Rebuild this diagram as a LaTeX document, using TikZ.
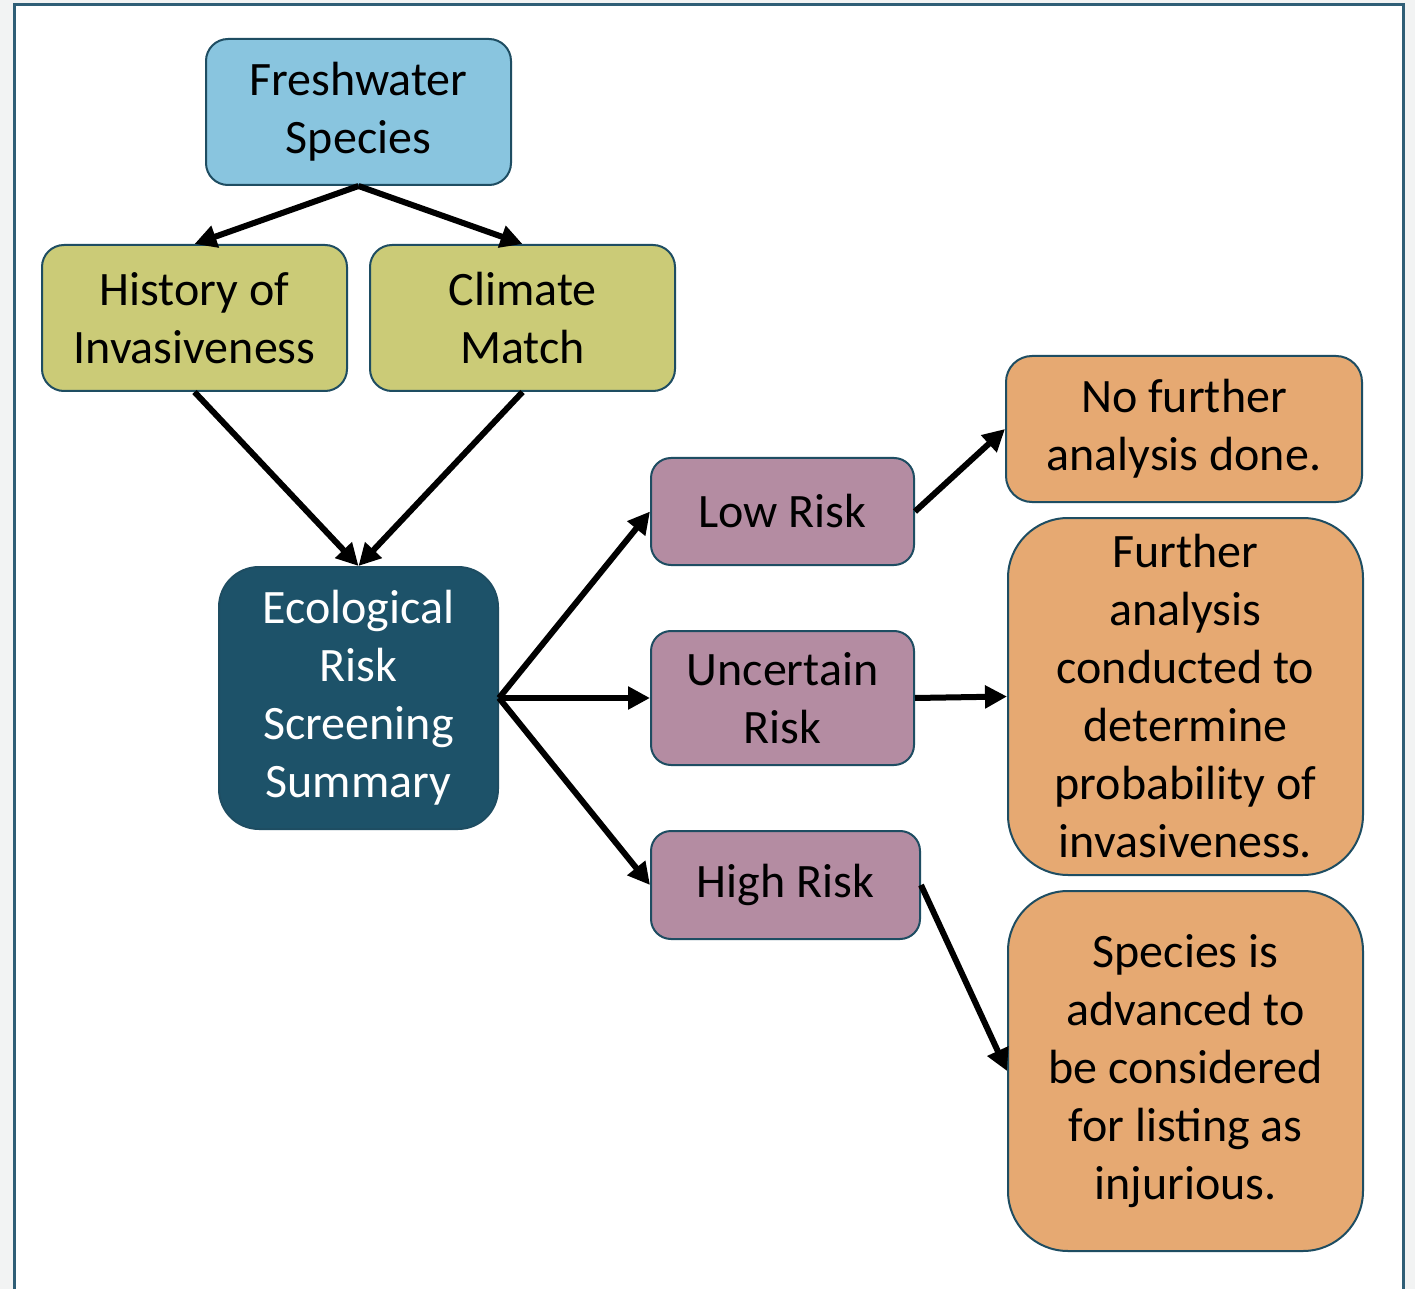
\documentclass[tikz,border=0pt]{standalone}
\usepackage{fontspec}
\setmainfont{Carlito}
\usetikzlibrary{arrows.meta}
\definecolor{bordc}{HTML}{1E4D62}
\definecolor{framec}{HTML}{2F5E76}
\definecolor{bgc}{HTML}{F2F3F3}
\definecolor{bluec}{HTML}{89C5DF}
\definecolor{olivec}{HTML}{CBCB77}
\definecolor{tealc}{HTML}{1D5269}
\definecolor{purplec}{HTML}{B48CA2}
\definecolor{orangec}{HTML}{E6A972}
\tikzset{
  boxbase/.style={draw=bordc, line width=1pt, inner sep=0pt, align=center,
    font=\fontsize{24pt}{29pt}\selectfont, text=black,
    execute at begin node={\vspace*{4pt}}},
  bluebox/.style={boxbase, fill=bluec, rounded corners=11pt, minimum width=152.5pt, minimum height=73pt},
  olivebox/.style={boxbase, fill=olivec, rounded corners=11pt, minimum width=152.5pt, minimum height=73pt},
  tealbox/.style={boxbase, fill=tealc, text=white, rounded corners=20pt, minimum width=139.5pt, minimum height=131pt},
  purplebox/.style={boxbase, fill=purplec, rounded corners=10pt},
  orangebox/.style={boxbase, fill=orangec},
  conn/.style={line width=3pt, -{Triangle[length=11pt,width=11pt]}}
}
\begin{document}
\begin{tikzpicture}[x=0.5pt,y=-0.5pt]
\useasboundingbox (0,0) rectangle (1415,1289);
\fill[bgc] (0,0) rectangle (1415,1289);
\fill[white] (14,5) rectangle (1403,1289);
\draw[framec, line width=1.5pt] (14,1289) -- (14,5) -- (1403,5) -- (1403,1289);

\node[bluebox] (fw) at (358.5,112) {Freshwater\\Species};
\node[olivebox] (hist) at (194.5,318) {History of\\Invasiveness};
\node[olivebox] (clim) at (522.5,318) {Climate\\Match};
\node[tealbox] (ers) at (358.5,698) {Ecological\\Risk\\Screening\\Summary};
\node[purplebox, minimum width=131.5pt, minimum height=53.5pt] (low) at (782.5,511.5) {Low Risk};
\node[purplebox, minimum width=131.5pt, minimum height=67pt] (unc) at (782.5,698) {Uncertain\\Risk};
\node[purplebox, minimum width=134.5pt, minimum height=54pt] (high) at (785.5,885) {High Risk};
\node[orangebox, rounded corners=13pt, minimum width=178pt, minimum height=73pt] (nof) at (1184,429) {No further\\analysis done.};
\node[orangebox, rounded corners=30pt, minimum width=177.5pt, minimum height=178.5pt] (fur) at (1185.5,696.5) {Further\\analysis\\conducted to\\determine\\probability of\\invasiveness.};
\node[orangebox, rounded corners=30pt, minimum width=177.5pt, minimum height=180pt] (spe) at (1185.5,1071) {Species is\\advanced to\\be considered\\for listing as\\injurious.};

\draw[conn] (fw.south) -- (hist.north);
\draw[conn] (fw.south) -- (clim.north);
\draw[conn] (hist.south) -- (ers.north);
\draw[conn] (clim.south) -- (ers.north);
\draw[conn] (ers.east) -- (low.west);
\draw[conn] (ers.east) -- (unc.west);
\draw[conn] (ers.east) -- (high.west);
\draw[conn] (low.east) -- (nof.west);
\draw[conn] (unc.east) -- (fur.west);
\draw[conn] (high.east) -- (spe.west);
\end{tikzpicture}
\end{document}
